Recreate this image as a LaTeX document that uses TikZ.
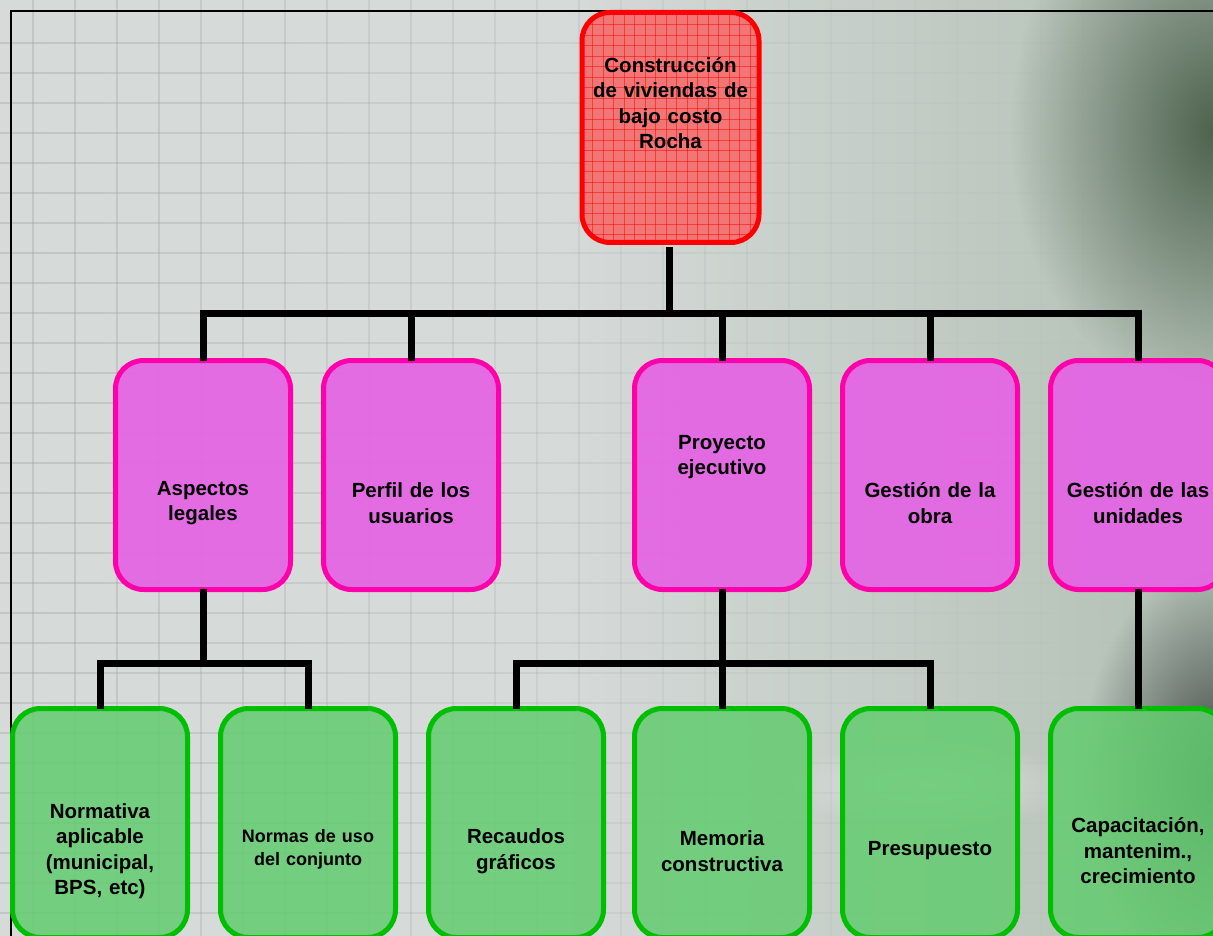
\documentclass[tikz,border=0pt]{standalone}
\usepackage{fontspec}
\setmainfont{Liberation Sans}
\usetikzlibrary{fadings}
\tikzfading[name=myfade, inner color=transparent!0, outer color=transparent!100]
\definecolor{bg}{RGB}{214,218,217}
\definecolor{gridc}{RGB}{150,156,156}
\definecolor{redfill}{RGB}{242,118,118}
\definecolor{redline}{RGB}{255,0,0}
\definecolor{pinkfill}{RGB}{228,100,228}
\definecolor{pinkline}{RGB}{255,0,170}
\definecolor{greenfill}{RGB}{100,204,112}
\definecolor{greenline}{RGB}{0,190,0}
\definecolor{darkgreen}{RGB}{78,98,78}
\definecolor{midgreen}{RGB}{178,192,180}
\definecolor{darkgray}{RGB}{60,68,64}
\begin{document}
\begin{tikzpicture}[x=1pt,y=-1pt,
  boxbase/.style={draw, rounded corners=28, line width=5, minimum width=175, minimum height=229, inner sep=0pt},
  rootbox/.style={boxbase, draw=redline, fill=redfill, minimum width=177, minimum height=230},
  midbox/.style={boxbase, draw=pinkline, fill=pinkfill, fill opacity=0.93},
  lowbox/.style={boxbase, draw=greenline, fill=greenfill, fill opacity=0.85},
  lbl/.style={font=\bfseries\fontsize{20.5}{25.5}\selectfont, align=center, text width=178, inner sep=0pt},
  smalllbl/.style={font=\bfseries\fontsize{18}{23}\selectfont, align=center, text width=178, inner sep=0pt},
  conn/.style={line width=7, draw=black, line join=miter}
]
\useasboundingbox (0,0) rectangle (1213,936);
% background
\fill[bg] (0,0) rectangle (1213,936);
\shade[left color=bg, right color=midgreen] (560,0) rectangle (1213,936);
\fill[darkgreen, path fading=myfade] (1010,-140) rectangle (1420,400);
\fill[darkgray, path fading=myfade] (1080,560) rectangle (1360,1000);
\fill[white, opacity=0.45, path fading=myfade] (780,740) rectangle (1080,830);
\foreach \x in {33,75,...,1213} {
  \pgfmathsetmacro{\op}{max(0,0.32*(1-\x/1150))}
  \draw[gridc, line width=1.4, opacity=\op] (\x,0) -- (\x,936);}
\foreach \y in {43,73,...,936} {
  \foreach \x in {0,50,...,1200} {
    \pgfmathsetmacro{\op}{max(0,0.32*(1-(\x+25)/1150))}
    \draw[gridc, line width=1.4, opacity=\op] (\x,\y) -- (\x+50,\y);}}
% frame
\draw[black, line width=2.5] (11,936) -- (11,11) -- (1213,11);

% root
\node[rootbox] (root) at (670.5,127.5) {};
\begin{scope}
  \clip[rounded corners=28] (582,12) rectangle (759,243);
  \foreach \x in {582,592.5,...,760} {\draw[redline, line width=0.8, opacity=0.5] (\x,12) -- (\x,243);}
  \foreach \y in {14,24.5,...,243} {\draw[redline, line width=0.8, opacity=0.5] (582,\y) -- (759,\y);}
\end{scope}
\node[lbl] (roott) at (670.5,103) {Construcción\\de viviendas de\\bajo costo\\Rocha};

% middle row
\node[midbox] (m1) at (203,475) {};
\node[midbox] (m2) at (411,475) {};
\node[midbox] (m3) at (722,475) {};
\node[midbox] (m4) at (930,475) {};
\node[midbox] (m5) at (1138,475) {};
\node[lbl] (m1t) at (203,503) {Aspectos\\legales};
\node[lbl] (m2t) at (411,503) {Perfil de los\\usuarios};
\node[lbl] (m3t) at (722,457) {Proyecto\\ejecutivo};
\node[lbl] (m4t) at (930,503) {Gestión de la\\obra};
\node[lbl] (m5t) at (1138,503) {Gestión de las\\unidades};

% bottom row
\node[lowbox] (b1) at (100,823) {};
\node[lowbox] (b2) at (308,823) {};
\node[lowbox] (b3) at (516,823) {};
\node[lowbox] (b4) at (722,823) {};
\node[lowbox] (b5) at (930,823) {};
\node[lowbox] (b6) at (1138,823) {};
\node[lbl] (b1t) at (100,851) {Normativa\\aplicable\\(municipal,\\BPS, etc)};
\node[smalllbl] (b2t) at (308,849) {Normas de uso\\del conjunto};
\node[lbl] (b3t) at (516,851) {Recaudos\\gráficos};
\node[lbl] (b4t) at (722,851) {Memoria\\constructiva};
\node[lbl] (b5t) at (930,851) {Presupuesto};
\node[lbl] (b6t) at (1138,851) {Capacitación,\\mantenim.,\\crecimiento};

% connectors
\coordinate (j0) at (669.5,313.5);
\coordinate (j1) at (203,663);
\coordinate (j2) at (722,663);
\draw[conn] (root.south) ++(-1,2.5) -- (j0);
\draw[conn] ([yshift=-3]m1.north) -- (m1.north |- j0) -- (m5.north |- j0) -- ([yshift=-3]m5.north);
\draw[conn] ([yshift=-3]m2.north) -- (m2.north |- j0);
\draw[conn] ([yshift=-3]m3.north) -- (m3.north |- j0);
\draw[conn] ([yshift=-3]m4.north) -- (m4.north |- j0);
\draw[conn] ([yshift=3]m1.south) -- (j1);
\draw[conn] ([yshift=-3]b1.north) -- (b1.north |- j1) -- (b2.north |- j1) -- ([yshift=-3]b2.north);
\draw[conn] ([yshift=3]m3.south) -- ([yshift=-3]b4.north);
\draw[conn] ([yshift=-3]b3.north) -- (b3.north |- j2) -- (b5.north |- j2) -- ([yshift=-3]b5.north);
\draw[conn] ([yshift=3]m5.south) -- ([yshift=-3]b6.north);
\end{tikzpicture}
\end{document}
